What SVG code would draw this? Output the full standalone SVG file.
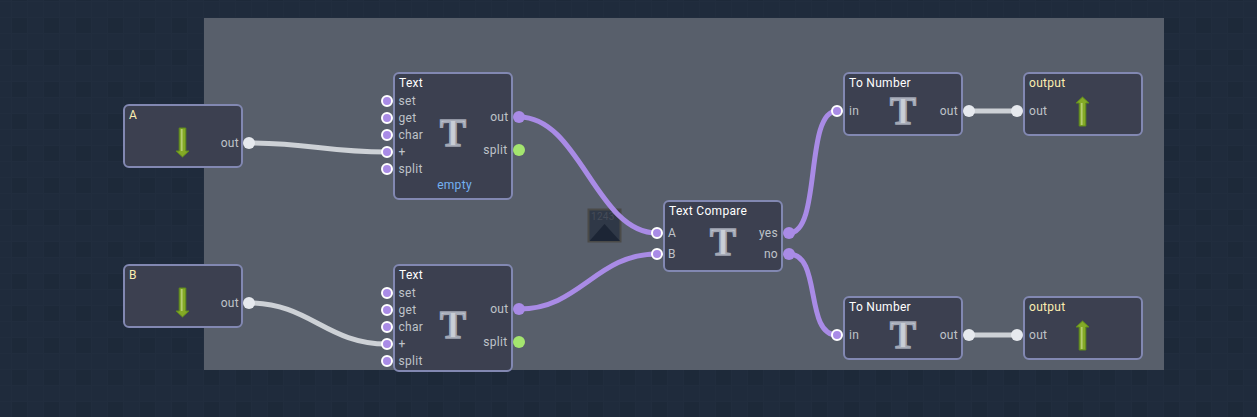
<svg xmlns="http://www.w3.org/2000/svg" width="1257" height="417" viewBox="0 0 1257 417">
<style>
.n{fill:#3c4050;stroke:#8288b2;stroke-width:2}
text{font-family:"Roboto","Liberation Sans",sans-serif;font-size:12px;letter-spacing:.3px}
.t{fill:#fff}.y{fill:#fbeeb0}.l{fill:#bfc3c9}.r{text-anchor:end}
.e{fill:#74b0f0;text-anchor:middle}
.i{font-family:"Liberation Serif",serif;font-weight:bold;font-size:39px;text-anchor:middle;letter-spacing:0;fill:#c9ced6;stroke:#a2a7b4;stroke-width:1.6}
.w{fill:none;stroke-width:5}
.p{stroke:#a98be6}.g{stroke:#cdd1d6}
.pi{fill:#a98be6;stroke:#fff;stroke-width:2}
.po{fill:#a98be6}.gr{fill:#a4e56f}.wo{fill:#e6e9ee}
</style>
<defs>
<pattern id="bg" width="32" height="32" patternUnits="userSpaceOnUse" x="12" y="18">
<rect width="32" height="32" fill="#1f2b3c"/>
<rect x="0" y="0" width="16" height="16" fill="#1d2939"/>
<rect x="15" y="0" width="1" height="32" fill="#212d3e"/>
<rect x="31" y="0" width="1" height="32" fill="#212d3e"/>
<rect x="0" y="15" width="32" height="1" fill="#212d3e"/>
<rect x="0" y="31" width="32" height="1" fill="#212d3e"/>
</pattern>
<g id="ad"><path d="M-3.300-15H3.300V8H6.500L0 14-6.500 8H-3.300Z" fill="#84aa26" stroke="#5f8a1c" stroke-width="1"/><path d="M-.8-14V8" stroke="#b4cc70" stroke-width="1.800"/></g>
<g id="au"><path d="M-3.300 15H3.300V-8H6.500L0-14-6.500-8H-3.300Z" fill="#84aa26" stroke="#5f8a1c" stroke-width="1"/><path d="M-.8 14V-8" stroke="#b4cc70" stroke-width="1.800"/></g>
</defs>
<rect width="1257" height="417" fill="url(#bg)"/>
<rect x="204" y="18" width="960" height="352" fill="#585f6b"/>
<g id="broken-image">
<rect x="588.500" y="209.500" width="32" height="32" fill="#2f3847" stroke="#4a4a48" stroke-width="2"/>
<path d="M589.500 241L604.500 224 620 241Z" fill="#1c2535"/>
<text x="591" y="220" style="font-size:10px" fill="#454b58">1243</text>
</g>
<g id="connectors">
<path class="w g" d="M249 143C310 143 326 152 387 152"/>
<path class="w g" d="M249 303C310 303 326 344 387 344"/>
<path class="w p" d="M519 117C580 117 596 233 657 233"/>
<path class="w p" d="M519 309C580 309 596 254 657 254"/>
<path class="w p" d="M789 233C822 233 804 111 837 111"/>
<path class="w p" d="M789 254C822 254 804 335 837 335"/>
<path class="w g" d="M969 111H1017"/>
<path class="w g" d="M969 335H1017"/>
</g>
<g id="node-a">
<rect class="n" x="124" y="105" width="118" height="62" rx="5"/>
<text class="y" x="129" y="119">A</text>
<use href="#ad" x="182.500" y="143"/>
<text class="l r" x="239" y="147">out</text>
<circle class="wo" cx="249" cy="143" r="6"/>
</g>
<g id="node-b">
<rect class="n" x="124" y="265" width="118" height="62" rx="5"/>
<text class="y" x="129" y="279">B</text>
<use href="#ad" x="182.500" y="303"/>
<text class="l r" x="239" y="307">out</text>
<circle class="wo" cx="249" cy="303" r="6"/>
</g>
<g id="text-1">
<rect class="n" x="394" y="73" width="118" height="126" rx="5"/>
<text class="t" x="399" y="87">Text</text>
<text class="i" x="453" y="146">T</text>
<text class="l" x="398.500" y="105">set</text><text class="l" x="398.500" y="122">get</text><text class="l" x="398.500" y="139">char</text><text class="l" x="398.500" y="156">+</text><text class="l" x="398.500" y="173">split</text>
<text class="l r" x="508.500" y="121">out</text><text class="l r" x="507.500" y="154">split</text>
<text class="e" x="454.500" y="189">empty</text>
<circle class="pi" cx="387" cy="101" r="5"/><circle class="pi" cx="387" cy="118" r="5"/><circle class="pi" cx="387" cy="135" r="5"/><circle class="pi" cx="387" cy="152" r="5"/><circle class="pi" cx="387" cy="169" r="5"/>
<circle class="po" cx="519" cy="117" r="6"/><circle class="gr" cx="519" cy="150" r="6"/>
</g>
<g id="text-2">
<rect class="n" x="394" y="265" width="118" height="106" rx="5"/>
<text class="t" x="399" y="279">Text</text>
<text class="i" x="453" y="338">T</text>
<text class="l" x="398.500" y="297">set</text><text class="l" x="398.500" y="314">get</text><text class="l" x="398.500" y="331">char</text><text class="l" x="398.500" y="348">+</text><text class="l" x="398.500" y="365">split</text>
<text class="l r" x="508.500" y="313">out</text><text class="l r" x="507.500" y="346">split</text>
<circle class="pi" cx="387" cy="293" r="5"/><circle class="pi" cx="387" cy="310" r="5"/><circle class="pi" cx="387" cy="327" r="5"/><circle class="pi" cx="387" cy="344" r="5"/><circle class="pi" cx="387" cy="361" r="5"/>
<circle class="po" cx="519" cy="309" r="6"/><circle class="gr" cx="519" cy="342" r="6"/>
</g>
<g id="text-compare">
<rect class="n" x="664" y="201" width="118" height="70" rx="5"/>
<text class="t" x="669" y="215">Text Compare</text>
<text class="i" x="723" y="255">T</text>
<text class="l" x="668" y="237">A</text><text class="l" x="668" y="258">B</text>
<text class="l r" x="778" y="237">yes</text><text class="l r" x="778" y="258">no</text>
<circle class="pi" cx="657" cy="233" r="5"/><circle class="pi" cx="657" cy="254" r="5"/>
<circle class="po" cx="789" cy="233" r="6"/><circle class="po" cx="789" cy="254" r="6"/>
</g>
<g id="to-number-1">
<rect class="n" x="844" y="73" width="118" height="62" rx="5"/>
<text class="t" x="849" y="87">To Number</text>
<text class="i" x="903" y="124">T</text>
<text class="l" x="849" y="115">in</text><text class="l r" x="958" y="115">out</text>
<circle class="pi" cx="837" cy="111" r="5"/><circle class="wo" cx="969" cy="111" r="6"/>
</g>
<g id="output-1">
<rect class="n" x="1024" y="73" width="118" height="62" rx="5"/>
<text class="y" x="1029" y="87">output</text>
<use href="#au" x="1082.500" y="111"/>
<text class="l" x="1029" y="115">out</text>
<circle class="wo" cx="1017" cy="111" r="6"/>
</g>
<g id="to-number-2">
<rect class="n" x="844" y="297" width="118" height="62" rx="5"/>
<text class="t" x="849" y="311">To Number</text>
<text class="i" x="903" y="348">T</text>
<text class="l" x="849" y="339">in</text><text class="l r" x="958" y="339">out</text>
<circle class="pi" cx="837" cy="335" r="5"/><circle class="wo" cx="969" cy="335" r="6"/>
</g>
<g id="output-2">
<rect class="n" x="1024" y="297" width="118" height="62" rx="5"/>
<text class="y" x="1029" y="311">output</text>
<use href="#au" x="1082.500" y="335"/>
<text class="l" x="1029" y="339">out</text>
<circle class="wo" cx="1017" cy="335" r="6"/>
</g>
</svg>
